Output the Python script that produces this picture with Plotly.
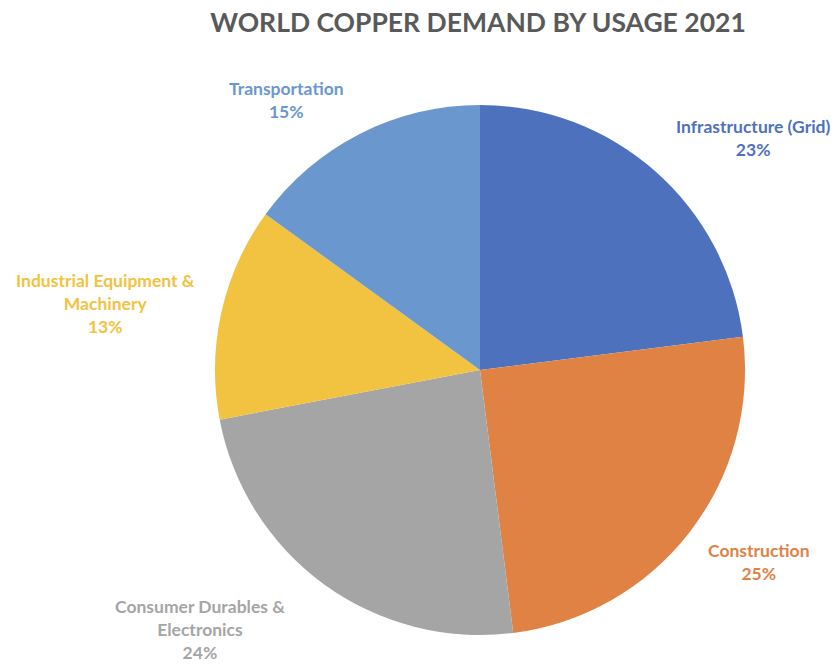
import plotly.graph_objects as go

categories = ["Infrastructure (Grid)", "Construction", "Consumer Durables &<br>Electronics",
              "Industrial Equipment &<br>Machinery", "Transportation"]
shares = [23, 25, 24, 13, 15]
colors = ["#4E71BE", "#DF8244", "#A5A5A5", "#F2C241", "#6A98CE"]

# label anchor positions (pixels in 834x664 canvas), Excel-style best-fit placement
label_pos = [(753, 138), (759, 562), (200, 629), (106, 304), (286, 100)]

W, H = 834, 664
cx, cy, r = 480, 370, 265

fig = go.Figure(go.Pie(
    labels=categories,
    values=shares,
    sort=False,
    direction="clockwise",
    rotation=0,
    marker=dict(colors=colors, line=dict(color="white", width=0)),
    textinfo="none",
    hoverinfo="label+percent",
    showlegend=False,
    domain=dict(x=[(cx - r) / W, (cx + r) / W], y=[(H - cy - r) / H, (H - cy + r) / H]),
))

total = sum(shares)
for cat, v, col, (px, py) in zip(categories, shares, colors, label_pos):
    fig.add_annotation(
        x=px / W, y=1 - py / H, xref="paper", yref="paper",
        text=f"{cat}<br>{round(100 * v / total)}%",
        showarrow=False, xanchor="center", yanchor="middle", align="center",
        font=dict(family="Lato", size=17.5, color=col, weight="bold"),
    )

fig.update_layout(
    width=W, height=H,
    margin=dict(l=0, r=0, t=0, b=0),
    paper_bgcolor="white", plot_bgcolor="white",
    title=dict(text="<b>WORLD COPPER DEMAND BY USAGE 2021</b>", x=478 / W, xanchor="center",
               y=1 - 23 / H, yanchor="middle", yref="container",
               font=dict(family="Lato", size=26.5, color="#595959")),
)

fig.write_html("out.html")
